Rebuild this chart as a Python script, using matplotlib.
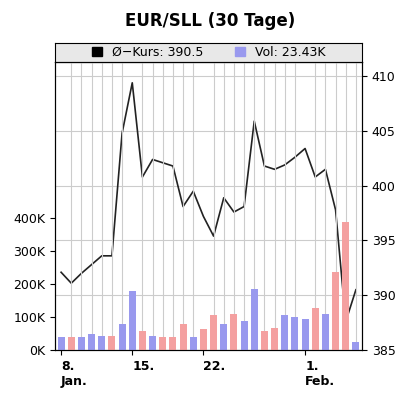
import matplotlib
matplotlib.use("Agg")
import matplotlib.pyplot as plt
from matplotlib.lines import Line2D
from matplotlib.patches import Patch

days = list(range(30))
xtick_pos = [0, 7, 14, 24]
xtick_labels = ["8.\nJan.", "15.", "22.", "1.\nFeb."]
vol = [38, 38, 38, 50, 42, 42, 79, 178, 59, 42, 38, 38, 79, 38, 63, 105, 79, 109, 89, 186,
       59, 67, 105, 101, 93, 126, 109, 237, 389, 25]
vol_up = [True, False, True, True, True, False, True, True, False, True, False, False, False, True, False,
          False, True, False, True, True, False, False, True, True, True, False, True, False, False, True]
price = [392.1, 391.1, 392.0, 392.8, 393.6, 393.6, 404.8, 409.4, 400.8, 402.4, 402.1, 401.8, 398.1, 399.5,
         397.2, 395.4, 398.9, 397.6, 398.1, 405.9, 401.8, 401.5, 401.9, 402.6, 403.4, 400.8, 401.5, 397.8,
         387.6, 390.5]

fig = plt.figure(figsize=(4.2, 4.0), dpi=100)
ax = fig.add_axes([55/420, 50/400, 307/420, 288/400])
colors = ["#9999ee" if u else "#f4a0a0" for u in vol_up]
ax.bar(days, vol, width=0.7, color=colors, zorder=2)
ax.set_ylim(0, 873)
ax.set_yticks([0, 100, 200, 300, 400])
ax.set_yticklabels(["0K", "100K", "200K", "300K", "400K"])
ax.set_xlim(-0.6, 29.6)
ax.set_xticks(xtick_pos)
ax.set_xticklabels(xtick_labels, fontweight="bold", fontsize=9)
for lbl in ax.get_xticklabels():
    lbl.set_horizontalalignment("left")
ax.set_xticks(days, minor=True)
ax.grid(True, which="minor", axis="x", color="#cccccc", lw=0.8, zorder=0)
ax.tick_params(axis="x", which="minor", length=0)
ax.tick_params(labelsize=9)

ax2 = ax.twinx()
ax2.plot(days, price, color="#222222", lw=1.2, zorder=3)
ax2.set_ylim(385, 411.3)
ax2.set_yticks([385, 390, 395, 400, 405, 410])
ax2.grid(True, axis="y", color="#cccccc", lw=0.8)
ax2.tick_params(labelsize=9)
ax.set_zorder(ax2.get_zorder() + 1)
ax.patch.set_visible(False)

# legend band
lax = fig.add_axes([55/420, 338/400, 307/420, 19/400])
lax.set_xticks([]); lax.set_yticks([])
lax.set_facecolor("#e8e8e8")
lax.legend([Patch(color="black"), Patch(color="#9999ee")],
           ["Ø−Kurs: 390.5", "Vol: 23.43K"], loc="center", ncol=2, frameon=False,
           fontsize=9, handlelength=0.8, handleheight=0.8, columnspacing=2.5)

fig.suptitle("EUR/SLL (30 Tage)", fontsize=12, fontweight="bold", y=0.97)
fig.savefig("out.png", dpi=100)
